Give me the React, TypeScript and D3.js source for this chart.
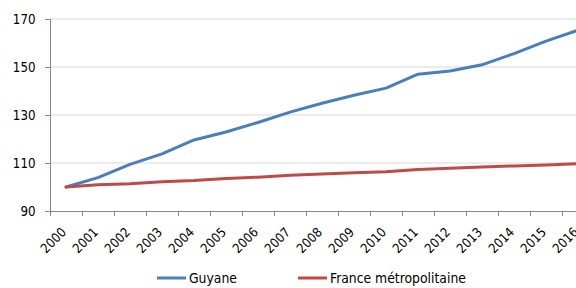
import React, { useEffect, useRef } from 'react';
import * as d3 from 'd3';

const years = ['2000', '2001', '2002', '2003', '2004', '2005', '2006', '2007', '2008', '2009', '2010', '2011', '2012', '2013', '2014', '2015', '2016'];
const guyane = [100, 103.9, 109.4, 113.8, 119.6, 122.9, 126.9, 131.2, 134.9, 138.2, 141.2, 147.0, 148.3, 150.9, 155.6, 160.8, 165.3];
const france = [100, 100.9, 101.4, 102.2, 102.7, 103.5, 104.1, 104.9, 105.4, 105.9, 106.4, 107.3, 107.8, 108.3, 108.8, 109.2, 109.7];
const yTicks = [90, 110, 130, 150, 170];

const series = [
  { name: 'Guyane', values: guyane, color: '#4A7EBB' },
  { name: 'France métropolitaine', values: france, color: '#BE4B48' },
];

const App = () => {
  const ref = useRef<SVGSVGElement>(null);

  useEffect(() => {
    const svg = d3.select(ref.current);
    svg.selectAll('*').remove();
    const font = '"DejaVu Sans Condensed", "DejaVu Sans", sans-serif';

    const x = d3.scaleBand().domain(years).range([50, 594]);
    const y = d3.scaleLinear().domain([90, 170]).range([211, 19]);

    // gridlines
    svg.append('g')
      .selectAll('line')
      .data(yTicks.slice(1))
      .enter()
      .append('line')
      .attr('x1', 50)
      .attr('x2', 576)
      .attr('y1', d => y(d))
      .attr('y2', d => y(d))
      .attr('stroke', '#D9D9D9')
      .attr('stroke-width', 1);

    // y axis
    const yAxis = svg.append('g');
    yAxis.append('line')
      .attr('x1', 50.5).attr('x2', 50.5)
      .attr('y1', y(170)).attr('y2', y(90))
      .attr('stroke', '#868686');
    yAxis.selectAll('line.tick')
      .data(yTicks)
      .enter()
      .append('line')
      .attr('class', 'tick')
      .attr('x1', 45).attr('x2', 50)
      .attr('y1', d => Math.round(y(d)) + 0.5)
      .attr('y2', d => Math.round(y(d)) + 0.5)
      .attr('stroke', '#868686');
    yAxis.selectAll('text')
      .data(yTicks)
      .enter()
      .append('text')
      .attr('x', 35.5)
      .attr('y', d => y(d))
      .attr('dy', '0.36em')
      .attr('text-anchor', 'end')
      .style('font-family', font)
      .style('font-size', '13.2px')
      .style('fill', '#000')
      .text(d => d);

    // x axis
    const xAxis = svg.append('g');
    xAxis.append('line')
      .attr('x1', 50).attr('x2', 576)
      .attr('y1', 211.5).attr('y2', 211.5)
      .attr('stroke', '#868686');
    xAxis.selectAll('line.tick')
      .data(years)
      .enter()
      .append('line')
      .attr('class', 'tick')
      .attr('x1', d => Math.round(x(d)!) + 0.5)
      .attr('x2', d => Math.round(x(d)!) + 0.5)
      .attr('y1', 211).attr('y2', 216)
      .attr('stroke', '#868686');
    xAxis.selectAll('text')
      .data(years)
      .enter()
      .append('text')
      .attr('transform', d => `translate(${x(d)! + x.bandwidth() / 2 + 1},${233}) rotate(-45)`)
      .attr('text-anchor', 'end')
      .style('font-family', font)
      .style('font-size', '13px')
      .style('fill', '#000')
      .text(d => d);

    // lines
    const line = d3.line<number>()
      .x((_, i) => x(years[i])! + x.bandwidth() / 2)
      .y(d => y(d));

    svg.append('g')
      .selectAll('path')
      .data(series)
      .enter()
      .append('path')
      .attr('d', d => line(d.values))
      .attr('fill', 'none')
      .attr('stroke', d => d.color)
      .attr('stroke-width', 3)
      .attr('stroke-linejoin', 'round')
      .attr('stroke-linecap', 'round');

    // legend
    const legendX = [157, 298];
    const legend = svg.append('g')
      .selectAll('g')
      .data(series)
      .enter()
      .append('g')
      .attr('transform', (_, i) => `translate(${legendX[i]},278)`);
    legend.append('line')
      .attr('x1', 0).attr('x2', 29)
      .attr('y1', 0).attr('y2', 0)
      .attr('stroke', d => d.color)
      .attr('stroke-width', 3);
    legend.append('text')
      .attr('x', 32)
      .attr('y', 0)
      .attr('dy', '0.36em')
      .style('font-family', font)
      .style('font-size', '13.8px')
      .style('fill', '#000')
      .text(d => d.name);
  }, []);

  return (
    <svg
      ref={ref}
      width={576}
      height={288}
      style={{ position: 'absolute', left: 0, top: 0, background: '#fff' }}
    />
  );
};

export default App;
